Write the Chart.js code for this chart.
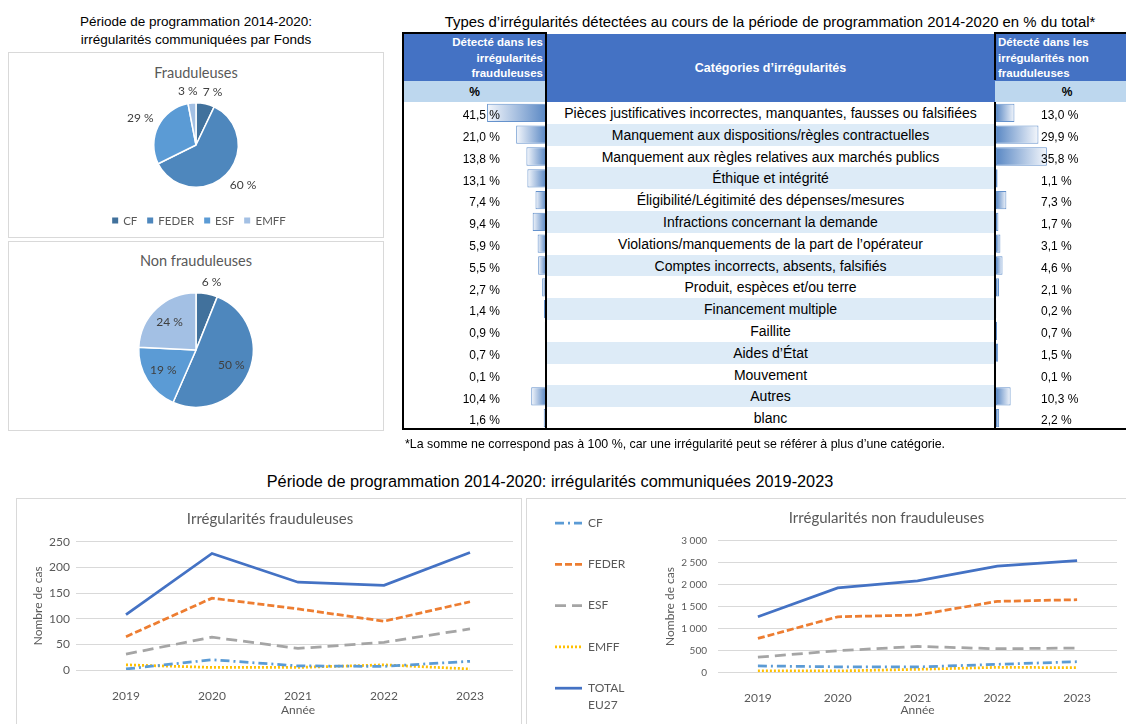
<!DOCTYPE html>
<html><head><meta charset="utf-8">
<script src="https://cdn.jsdelivr.net/npm/chart.js@4.4.1/dist/chart.umd.min.js"></script>
<style>
html,body{margin:0;padding:0}
body{width:1126px;height:724px;overflow:hidden;background:#fff;position:relative;font-family:'Liberation Sans',Arial,sans-serif;color:#000}
.ctr{position:absolute;transform:translate(-50%,-50%);white-space:nowrap}
.box{position:absolute;border:1px solid #d9d9d9;box-sizing:border-box}
canvas{position:absolute}
.blk{position:absolute;background:#000}
.hdr{position:absolute;background:#4472c4;color:#fff;font-weight:bold;box-sizing:border-box}
.sub{position:absolute;background:#bdd7ee;font-weight:bold;font-size:12px;box-sizing:border-box}
.mrow{position:absolute;left:0;width:447px;height:21.8px;line-height:22px;text-align:center;font-size:14px;white-space:nowrap}
.mrow.alt{background:#ddebf7}
.plegend{position:absolute;display:flex;transform:translate(-50%,-50%);font-family:Lato,sans-serif;font-size:11.5px;color:#595959;white-space:nowrap;align-items:center}
.plegend span.item{display:flex;align-items:center;margin:0 5px}
.plegend i{display:inline-block;width:6px;height:6px;margin-right:5px}
</style>
</head>
<body>
<!-- Top-left pies -->
<div class="ctr" style="left:196px;top:31px;font-size:13.5px;line-height:18px;text-align:center">Période de programmation 2014-2020:<br>irrégularités communiquées par Fonds</div>
<div class="box" style="left:8px;top:52px;width:376px;height:186px"></div>
<div class="box" style="left:8px;top:241px;width:376px;height:190px"></div>
<div class="ctr" style="left:196px;top:72px;font-family:Lato,sans-serif;font-size:14.5px;color:#595959">Frauduleuses</div>
<div class="ctr" style="left:196px;top:260px;font-family:Lato,sans-serif;font-size:14.5px;color:#595959">Non frauduleuses</div>
<canvas id="pie1" width="140" height="140" style="left:126px;top:75px"></canvas>
<canvas id="pie2" width="170" height="170" style="left:111px;top:265px"></canvas>
<div id="pieLegend" class="plegend" style="left:199px;top:220px"></div>

<!-- Table -->
<div class="ctr" style="left:770px;top:22px;font-size:14.9px">Types d’irrégularités détectées au cours de la période de programmation 2014-2020 en % du total*</div>
<div class="hdr" style="left:403px;top:33px;width:143px;height:48px;font-size:11.5px;line-height:15.5px;text-align:right;padding:2px 3px 0 0">Détecté dans les<br>irrégularités<br>frauduleuses</div>
<div class="sub" style="left:403px;top:81px;width:143px;height:21px;line-height:23px;text-align:center">%</div>
<div class="hdr" style="left:546px;top:34px;width:449px;height:68px;font-size:12.5px;line-height:68px;text-align:center">Catégories d’irrégularités</div>
<div class="hdr" style="left:995px;top:33px;width:131px;height:48px;font-size:11.5px;line-height:15.5px;text-align:left;padding:2px 0 0 3px">Détecté dans les<br>irrégularités non<br>frauduleuses</div>
<div class="sub" style="left:995px;top:81px;width:131px;height:21px;line-height:23px;text-align:center;padding-left:13px">%</div>
<div id="midRows" style="position:absolute;left:547px;top:102px;width:447px;height:327px"></div>
<canvas id="barL" width="142" height="327" style="left:404px;top:102px"></canvas>
<canvas id="barR" width="130" height="327" style="left:996px;top:102px"></canvas>
<div class="blk" style="left:402px;top:32px;width:145px;height:2px"></div>
<div class="blk" style="left:994px;top:32px;width:132px;height:2px"></div>
<div class="blk" style="left:402px;top:32px;width:2px;height:398px"></div>
<div class="blk" style="left:545px;top:32px;width:2px;height:398px"></div>
<div class="blk" style="left:994px;top:32px;width:2px;height:48px"></div>
<div class="blk" style="left:994px;top:102px;width:2px;height:328px"></div>
<div class="blk" style="left:402px;top:428px;width:724px;height:2px"></div>
<div style="position:absolute;left:405px;top:437px;font-size:12.4px;white-space:nowrap">*La somme ne correspond pas à 100 %, car une irrégularité peut se référer à plus d’une catégorie.</div>

<!-- Line charts -->
<div class="ctr" style="left:550px;top:481px;font-size:16.3px">Période de programmation 2014-2020: irrégularités communiquées 2019-2023</div>
<div class="box" style="left:16px;top:498px;width:506px;height:240px"></div>
<div class="box" style="left:526px;top:498px;width:610px;height:240px"></div>
<canvas id="lineL" width="507" height="227" style="left:15px;top:497px"></canvas>
<canvas id="lineR" width="600" height="227" style="left:526px;top:497px"></canvas>

<script>
// ---------- DATA ----------
const fundLabels = ['CF', 'FEDER', 'ESF', 'EMFF'];
const fraudByFund = [7, 60, 29, 3];
const nonFraudByFund = [6, 50, 19, 24];

const irregCategories = [
  'Pièces justificatives incorrectes, manquantes, fausses ou falsifiées',
  'Manquement aux dispositions/règles contractuelles',
  'Manquement aux règles relatives aux marchés publics',
  'Éthique et intégrité',
  'Éligibilité/Légitimité des dépenses/mesures',
  'Infractions concernant la demande',
  'Violations/manquements de la part de l’opérateur',
  'Comptes incorrects, absents, falsifiés',
  'Produit, espèces et/ou terre',
  'Financement multiple',
  'Faillite',
  'Aides d’État',
  'Mouvement',
  'Autres',
  'blanc'
];
const fraudPct = [41.5, 21.0, 13.8, 13.1, 7.4, 9.4, 5.9, 5.5, 2.7, 1.4, 0.9, 0.7, 0.1, 10.4, 1.6];
const nonFraudPct = [13.0, 29.9, 35.8, 1.1, 7.3, 1.7, 3.1, 4.6, 2.1, 0.2, 0.7, 1.5, 0.1, 10.3, 2.2];

const years = ['2019', '2020', '2021', '2022', '2023'];
const seriesNames = ['CF', 'FEDER', 'ESF', 'EMFF', 'TOTAL EU27'];
const fraudCF = [2, 20, 8, 7, 17];
const fraudFEDER = [65, 140, 119, 95, 133];
const fraudESF = [31, 64, 42, 54, 80];
const fraudEMFF = [10, 5, 5, 10, 2];
const fraudTotal = [108, 227, 171, 165, 229];
const nonFraudCF = [145, 125, 122, 181, 242];
const nonFraudFEDER = [772, 1265, 1307, 1617, 1655];
const nonFraudESF = [345, 492, 589, 537, 552];
const nonFraudEMFF = [30, 30, 68, 113, 106];
const nonFraudTotal = [1265, 1925, 2086, 2418, 2545];
const fraudTicks = [0, 50, 100, 150, 200, 250];
const nonFraudTicks = [0, 500, 1000, 1500, 2000, 2500, 3000];

// ---------- STYLES ----------
const fundColors = ['#41719c', '#4e87bd', '#5b9bd5', '#a3c0e4'];
const seriesStyles = [
  {color: '#5b9bd5', dash: [9, 4, 2, 4]},
  {color: '#ed7d31', dash: [7, 3]},
  {color: '#a5a5a5', dash: [11, 6]},
  {color: '#ffc000', dash: [2, 2]},
  {color: '#4472c4', dash: []}
];
Chart.defaults.font.family = 'Lato, sans-serif';
Chart.defaults.color = '#595959';

const clamp1 = v => Math.max(-1, Math.min(1, v));
const pieLabels = {
  id: 'pieLabels',
  afterDatasetsDraw(chart, args, o) {
    const ctx = chart.ctx;
    const ds = chart.data.datasets[0];
    ctx.save();
    ctx.font = '12px Lato, sans-serif';
    ctx.fillStyle = '#404040';
    ctx.textAlign = 'center';
    ctx.textBaseline = 'middle';
    const items = [];
    chart.getDatasetMeta(0).data.forEach((arc, i) => {
      const p = arc.getProps(['x', 'y', 'startAngle', 'endAngle', 'outerRadius'], true);
      const mid = (p.startAngle + p.endAngle) / 2;
      const c = Math.cos(mid), s = Math.sin(mid);
      const text = ds.data[i] + ' %';
      const w = ctx.measureText(text).width;
      let px, py;
      if (o.inside[i]) {
        const R = p.outerRadius * 0.67;
        px = p.x + c * R; py = p.y + s * R;
      } else {
        const R = p.outerRadius + 5;
        px = p.x + c * R + (w / 2) * clamp1(c * 2);
        py = p.y + s * R + 7 * clamp1(s * 2);
      }
      items.push({text, w, px, py, outside: !o.inside[i]});
    });
    // simple collision avoidance between outside labels
    for (let a = 0; a < items.length; a++) {
      for (let b = a + 1; b < items.length; b++) {
        const A = items[a], B = items[b];
        if (!A.outside || !B.outside || Math.abs(A.py - B.py) > 12) continue;
        const L = A.px < B.px ? A : B, Rr = A.px < B.px ? B : A;
        const gap = (Rr.px - Rr.w / 2) - (L.px + L.w / 2);
        if (gap < 5) { const d = (5 - gap) / 2; L.px -= d; Rr.px += d; }
      }
    }
    items.forEach(it => ctx.fillText(it.text, it.px, it.py));
    ctx.restore();
  }
};

function makePie(id, values, inside, pad) {
  return new Chart(document.getElementById(id), {
    type: 'pie',
    data: {labels: fundLabels, datasets: [{data: values, backgroundColor: fundColors, borderColor: '#ffffff', borderWidth: 1.5}]},
    options: {
      responsive: false, animation: false, events: [],
      layout: {padding: pad},
      plugins: {legend: {display: false}, tooltip: {enabled: false}, pieLabels: {inside}}
    },
    plugins: [pieLabels]
  });
}
const pie1 = makePie('pie1', fraudByFund, [false, false, false, false], 27);
makePie('pie2', nonFraudByFund, [false, true, true, true], 27);

// HTML legend generated from the pie chart's data
const leg = document.getElementById('pieLegend');
pie1.data.labels.forEach((lab, i) => {
  const it = document.createElement('span'); it.className = 'item';
  const sw = document.createElement('i'); sw.style.background = pie1.data.datasets[0].backgroundColor[i];
  it.appendChild(sw); it.appendChild(document.createTextNode(lab));
  leg.appendChild(it);
});

// ---------- TABLE ----------
const rowH = 327 / irregCategories.length;
const mid = document.getElementById('midRows');
irregCategories.forEach((c, i) => {
  const d = document.createElement('div');
  d.className = 'mrow' + (i % 2 ? ' alt' : '');
  d.style.top = (i * rowH) + 'px';
  d.textContent = c;
  mid.appendChild(d);
});

const fmtPct = v => v.toFixed(1).replace('.', ',') + ' %';
const barValues = {
  id: 'barValues',
  afterDatasetsDraw(chart, args, o) {
    const ctx = chart.ctx;
    const ds = chart.data.datasets[0];
    ctx.save();
    ctx.font = '12px "Liberation Sans", Arial, sans-serif';
    ctx.fillStyle = '#000';
    ctx.textAlign = o.align;
    ctx.textBaseline = 'middle';
    chart.getDatasetMeta(0).data.forEach((el, i) => {
      ctx.fillText(fmtPct(ds.data[i]), o.x, el.y + 3);
    });
    ctx.restore();
  }
};
function gradFill(ctx) {
  const chart = ctx.chart;
  if (!chart.chartArea) return '#638ec6';
  const xs = chart.scales.x;
  const x0 = xs.getPixelForValue(0), x1 = xs.getPixelForValue(ctx.raw);
  if (Math.abs(x1 - x0) < 1) return '#638ec6';
  const g = chart.ctx.createLinearGradient(x0, 0, x1, 0);
  g.addColorStop(0, '#5a88c4');
  g.addColorStop(1, '#f4f7fc');
  return g;
}
function makeDataBars(id, values, reverse, maxV, textX, align) {
  return new Chart(document.getElementById(id), {
    type: 'bar',
    data: {labels: irregCategories, datasets: [{data: values, backgroundColor: gradFill, borderColor: '#6592cc', borderWidth: 1, borderSkipped: false, barPercentage: 0.84, categoryPercentage: 1}]},
    options: {
      indexAxis: 'y', responsive: false, animation: false, events: [],
      layout: {padding: 0},
      scales: {x: {display: false, min: 0, max: maxV, reverse}, y: {display: false}},
      plugins: {legend: {display: false}, tooltip: {enabled: false}, barValues: {x: textX, align}}
    },
    plugins: [barValues]
  });
}
makeDataBars('barL', fraudPct, true, 142 / 1.42, 96, 'right');
makeDataBars('barR', nonFraudPct, false, 130 / 1.42, 45, 'left');

// ---------- LINE CHARTS ----------
function lineDatasets(arrs) {
  return arrs.map((d, i) => ({
    label: seriesNames[i], data: d,
    borderColor: seriesStyles[i].color, backgroundColor: seriesStyles[i].color,
    borderDash: seriesStyles[i].dash, borderWidth: 2.75,
    pointRadius: 0, tension: 0, fill: false
  }));
}
const sideLegend = {
  id: 'sideLegend',
  afterDraw(chart, args, o) {
    if (!o || !o.show) return;
    const ctx = chart.ctx;
    ctx.save();
    ctx.font = '12px Lato, sans-serif';
    ctx.fillStyle = '#595959';
    ctx.textAlign = 'left';
    ctx.textBaseline = 'middle';
    chart.data.datasets.forEach((ds, i) => {
      const y = o.top + i * o.spacing;
      ctx.save();
      ctx.strokeStyle = ds.borderColor; ctx.lineWidth = ds.borderWidth;
      ctx.setLineDash(ds.borderDash || []);
      ctx.beginPath(); ctx.moveTo(o.x, y); ctx.lineTo(o.x + o.len, y); ctx.stroke();
      ctx.restore();
      const full = ds.label;
      const lines = ctx.measureText(full).width > 50 ? full.split(' ') : [full];
      lines.forEach((ln, k) => ctx.fillText(ln, o.x + o.len + 6, y + k * 17));
    });
    ctx.restore();
  }
};
const fmtThousands = v => String(v).replace(/\B(?=(\d{3})+(?!\d))/g, ' ');
function makeLine(id, title, arrs, ticks, cfg) {
  return new Chart(document.getElementById(id), {
    type: 'line',
    data: {labels: years, datasets: lineDatasets(arrs)},
    options: {
      responsive: false, animation: false, events: [],
      layout: {padding: {left: cfg.padL, right: cfg.padR, top: 0, bottom: 0}},
      scales: {
        x: {
          offset: true,
          grid: {display: false}, border: {display: false},
          ticks: {padding: 11, font: {size: 12}, color: '#595959'},
          title: {display: true, text: 'Année', font: {size: 12}, color: '#595959', padding: {top: 0, bottom: 7}},
          afterFit: s => { s.height = cfg.xH; }
        },
        y: {
          min: ticks[0], max: ticks[ticks.length - 1],
          afterBuildTicks: s => { s.ticks = ticks.map(v => ({value: v})); },
          grid: {color: '#d9d9d9', lineWidth: 1, drawTicks: cfg.tickLen > 0, tickLength: cfg.tickLen, tickColor: '#d9d9d9'},
          border: {display: false},
          ticks: {padding: cfg.tickPad, font: {size: cfg.yFont}, color: '#595959', callback: v => fmtThousands(v)},
          title: {display: true, text: 'Nombre de cas', font: {size: 12}, color: '#595959', padding: {top: cfg.yTitlePad, bottom: 0}},
          afterFit: s => { s.width = cfg.yW; }
        }
      },
      plugins: {
        legend: {display: false}, tooltip: {enabled: false},
        title: {display: true, text: title, font: {size: 15, weight: 'normal'}, color: '#595959', padding: {top: cfg.tPadT, bottom: cfg.tPadB}},
        sideLegend: cfg.legend
      }
    },
    plugins: [sideLegend]
  });
}
makeLine('lineL', 'Irrégularités frauduleuses',
  [fraudCF, fraudFEDER, fraudESF, fraudEMFF, fraudTotal], fraudTicks,
  {padL: 12, padR: 9, yW: 56, xH: 54, tickLen: 7, tickPad: 6, yFont: 12, yTitlePad: 4, tPadT: 13, tPadB: 13.7, legend: {show: false}});
makeLine('lineR', 'Irrégularités non frauduleuses',
  [nonFraudCF, nonFraudFEDER, nonFraudESF, nonFraudEMFF, nonFraudTotal], nonFraudTicks,
  {padL: 130, padR: 9, yW: 62, xH: 51.7, tickLen: 0, tickPad: 11, yFont: 10, yTitlePad: 6.8, tPadT: 12, tPadB: 13.7,
   legend: {show: true, x: 29, len: 27, top: 26, spacing: 41.3}});
</script>
</body></html>
